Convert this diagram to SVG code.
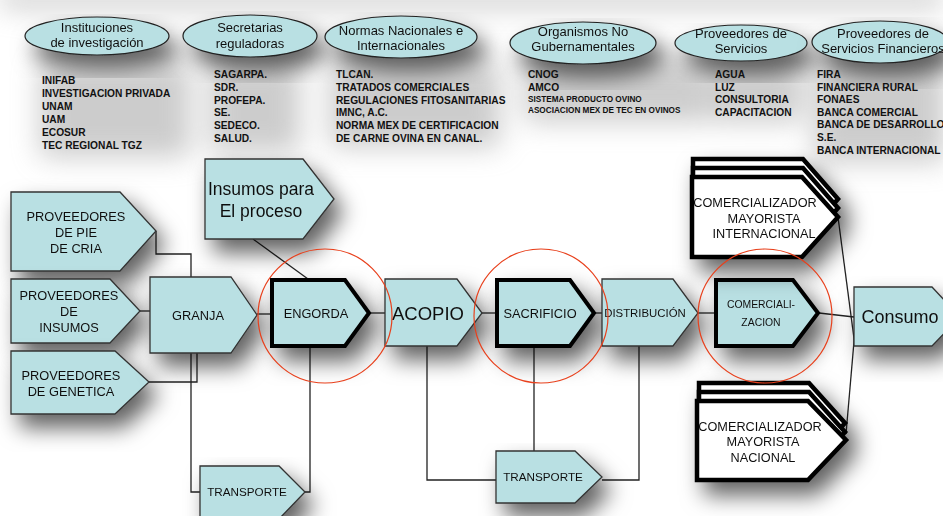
<svg xmlns="http://www.w3.org/2000/svg" width="943" height="516" viewBox="0 0 943 516">
<defs>
<filter id="sh" x="-40%" y="-40%" width="190%" height="200%">
<feGaussianBlur in="SourceAlpha" stdDeviation="11"/>
<feOffset dx="9" dy="13" result="b"/>
<feFlood flood-color="#000" flood-opacity="0.62"/>
<feComposite in2="b" operator="in" result="s"/>
<feMerge><feMergeNode in="s"/><feMergeNode in="SourceGraphic"/></feMerge>
</filter>
<filter id="fog" x="-50%" y="-50%" width="200%" height="200%">
<feGaussianBlur stdDeviation="14"/>
</filter>
</defs>
<style>
.n{fill:#b9e0e3;stroke:#333;stroke-width:1.3}
.t{fill:#b9e0e3;stroke:#000;stroke-width:4;stroke-linejoin:miter}
.w{fill:#fff;stroke:#000;stroke-width:4.5}
.e{fill:#b9e0e3;stroke:#222;stroke-width:1.2}
.c{fill:none;stroke:#222;stroke-width:1.3}
.r{fill:none;stroke:#e8401c;stroke-width:1.2}
text{font-family:"Liberation Sans",Arial,sans-serif;fill:#111}
.et{font-size:13px;text-anchor:middle}
.bt{font-size:12.8px;text-anchor:middle}
.l{font-size:10.2px;font-weight:bold}
.ls{font-size:8.2px;font-weight:bold}
</style>
<rect width="943" height="516" fill="#fff"/>
<g id="fog" filter="url(#fog)" fill="#9a9a9a" opacity="0.5">
<rect x="0" y="-12" width="943" height="20"/>
<rect x="40" y="62" width="150" height="95"/>
<rect x="210" y="62" width="90" height="90"/>
<rect x="330" y="62" width="170" height="85"/>
<rect x="525" y="62" width="185" height="60"/>
<rect x="712" y="62" width="90" height="60"/>
<rect x="815" y="62" width="130" height="100"/>
</g>
<g id="connectors">
<polyline class="c" points="156,231 156,254 191,254 191,277"/>
<line class="c" x1="140" y1="311" x2="150" y2="311"/>
<polyline class="c" points="149,382 197,382 197,353"/>
<polyline class="c" points="191,353 191,492 200,492"/>
<polyline class="c" points="310,346 310,492 305,492"/>
<line class="c" x1="253" y1="239" x2="308" y2="279"/>
<line class="c" x1="257" y1="314" x2="272" y2="314"/>
<line class="c" x1="370" y1="313" x2="385" y2="313"/>
<line class="c" x1="482" y1="313" x2="496" y2="313"/>
<line class="c" x1="595" y1="313" x2="602" y2="313"/>
<line class="c" x1="698" y1="313" x2="715" y2="313"/>
<line class="c" x1="819" y1="313" x2="854" y2="317"/>
<polyline class="c" points="427,346 427,480 496,480"/>
<line class="c" x1="534" y1="346" x2="534" y2="451"/>
<polyline class="c" points="639,346 639,480 602,480"/>
<line class="c" x1="838" y1="217" x2="855" y2="346"/>
<line class="c" x1="846" y1="434" x2="855" y2="330"/>
</g>
<g id="instituciones" filter="url(#sh)">
<ellipse class="e" cx="97" cy="36" rx="72" ry="19"/>
<text class="et" x="97" y="32">Instituciones</text>
<text class="et" x="97" y="47">de investigación</text>
</g>
<g id="secretarias" filter="url(#sh)">
<ellipse class="e" cx="250" cy="36" rx="67" ry="21"/>
<text class="et" x="250" y="32">Secretarias</text>
<text class="et" x="250" y="48">reguladoras</text>
</g>
<g id="normas" filter="url(#sh)">
<ellipse class="e" cx="401" cy="37" rx="76" ry="21"/>
<text class="et" x="401" y="35">Normas Nacionales e</text>
<text class="et" x="401" y="50">Internacionales</text>
</g>
<g id="ong" filter="url(#sh)">
<ellipse class="e" cx="583" cy="43" rx="73" ry="21"/>
<text class="et" x="583" y="36">Organismos No</text>
<text class="et" x="583" y="51">Gubernamentales</text>
</g>
<g id="servicios" filter="url(#sh)">
<ellipse class="e" cx="741" cy="43" rx="66" ry="18"/>
<text class="et" x="741" y="38">Proveedores de</text>
<text class="et" x="741" y="53">Servicios</text>
</g>
<g id="financieros" filter="url(#sh)">
<ellipse class="e" cx="880" cy="42" rx="68" ry="21"/>
<text class="et" x="883" y="38">Proveedores de</text>
<text class="et" x="883" y="53">Servicios Financieros</text>
</g>
<g id="lista-instituciones">
<text class="l" x="42" y="84">INIFAB</text>
<text class="l" x="42" y="97">INVESTIGACION PRIVADA</text>
<text class="l" x="42" y="110">UNAM</text>
<text class="l" x="42" y="123">UAM</text>
<text class="l" x="42" y="136">ECOSUR</text>
<text class="l" x="42" y="149">TEC REGIONAL TGZ</text>
</g>
<g id="lista-secretarias">
<text class="l" x="214" y="78">SAGARPA.</text>
<text class="l" x="214" y="91">SDR.</text>
<text class="l" x="214" y="104">PROFEPA.</text>
<text class="l" x="214" y="116">SE.</text>
<text class="l" x="214" y="129">SEDECO.</text>
<text class="l" x="214" y="142">SALUD.</text>
</g>
<g id="lista-normas">
<text class="l" x="336" y="78">TLCAN.</text>
<text class="l" x="336" y="91">TRATADOS COMERCIALES</text>
<text class="l" x="336" y="104">REGULACIONES FITOSANITARIAS</text>
<text class="l" x="336" y="116">IMNC, A.C.</text>
<text class="l" x="336" y="129">NORMA MEX DE CERTIFICACION</text>
<text class="l" x="336" y="142">DE CARNE OVINA EN CANAL.</text>
</g>
<g id="lista-ong">
<text class="l" x="528" y="78">CNOG</text>
<text class="l" x="528" y="91">AMCO</text>
<text class="ls" x="528" y="102">SISTEMA PRODUCTO OVINO</text>
<text class="ls" x="528" y="113">ASOCIACION MEX DE TEC EN OVINOS</text>
</g>
<g id="lista-servicios">
<text class="l" x="715" y="78">AGUA</text>
<text class="l" x="715" y="91">LUZ</text>
<text class="l" x="715" y="103">CONSULTORIA</text>
<text class="l" x="715" y="116">CAPACITACION</text>
</g>
<g id="lista-financieros">
<text class="l" x="817" y="78">FIRA</text>
<text class="l" x="817" y="91">FINANCIERA RURAL</text>
<text class="l" x="817" y="103">FONAES</text>
<text class="l" x="817" y="116">BANCA COMERCIAL</text>
<text class="l" x="817" y="128">BANCA DE DESARROLLO</text>
<text class="l" x="817" y="141">S.E.</text>
<text class="l" x="817" y="154">BANCA INTERNACIONAL</text>
</g>
<g id="pie-de-cria" filter="url(#sh)">
<path class="n" d="M11,192H120L156,231L120,271H11Z"/>
<text class="bt" x="76" y="221">PROVEEDORES</text>
<text class="bt" x="76" y="237">DE PIE</text>
<text class="bt" x="76" y="253">DE CRIA</text>
</g>
<g id="insumos-prov" filter="url(#sh)">
<path class="n" d="M11,279H110L140,311L110,343H11Z"/>
<text class="bt" x="69" y="300">PROVEEDORES</text>
<text class="bt" x="69" y="316">DE</text>
<text class="bt" x="69" y="332">INSUMOS</text>
</g>
<g id="genetica" filter="url(#sh)">
<path class="n" d="M11,351H115L149,382L115,414H11Z"/>
<text class="bt" x="71" y="380">PROVEEDORES</text>
<text class="bt" x="71" y="396">DE GENETICA</text>
</g>
<g id="granja" filter="url(#sh)">
<path class="n" d="M150,277H231L257,315L231,353H150Z"/>
<text class="bt" x="198" y="320">GRANJA</text>
</g>
<g id="insumos-proceso" filter="url(#sh)">
<path class="n" d="M205,159H303L334,199L303,239H205Z"/>
<text x="261" y="195" style="font-size:17.5px;text-anchor:middle">Insumos para</text>
<text x="261" y="217" style="font-size:17.5px;text-anchor:middle">El proceso</text>
</g>
<g id="engorda" filter="url(#sh)">
<path class="t" d="M272,280H345L369,313L345,346H272Z"/>
<text class="bt" x="316" y="318">ENGORDA</text>
</g>
<g id="acopio" filter="url(#sh)">
<path class="n" d="M385,279H457L482,313L457,346H385Z"/>
<text x="428" y="320" style="font-size:18.5px;text-anchor:middle">ACOPIO</text>
</g>
<g id="sacrificio" filter="url(#sh)">
<path class="t" d="M497,280H570L594,313L570,346H497Z"/>
<text class="bt" x="540" y="318">SACRIFICIO</text>
</g>
<g id="distribucion" filter="url(#sh)">
<path class="n" d="M602,279H673L698,313L673,346H602Z"/>
<text x="645" y="317" style="font-size:11.4px;text-anchor:middle">DISTRIBUCIÓN</text>
</g>
<g id="comercializacion" filter="url(#sh)">
<path class="t" d="M716,280H793L818,313L793,346H716Z"/>
<text x="761" y="308" style="font-size:10.4px;text-anchor:middle">COMERCIALI-</text>
<text x="761" y="326" style="font-size:10.4px;text-anchor:middle">ZACION</text>
</g>
<g id="consumo" filter="url(#sh)">
<path class="n" d="M854,287H932L960,317L932,346H854Z"/>
<text x="900" y="323" style="font-size:18px;text-anchor:middle">Consumo</text>
</g>
<g id="mayorista-internacional" filter="url(#sh)">
<path class="w" d="M693,159H803L838,199L803,239H693Z"/>
<path class="w" d="M693,168H803L838,208L803,248H693Z"/>
<path class="w" d="M692,177H802L838,217L802,257H692Z"/>
<text x="755" y="207" style="font-size:12.7px;text-anchor:middle">COMERCIALIZADOR</text>
<text x="764" y="223" style="font-size:12.7px;text-anchor:middle">MAYORISTA</text>
<text x="764" y="238" style="font-size:12.7px;text-anchor:middle">INTERNACIONAL</text>
</g>
<g id="mayorista-nacional" filter="url(#sh)">
<path class="w" d="M699,383H809L845,423L809,463H699Z"/>
<path class="w" d="M699,392H809L845,432L809,472H699Z"/>
<path class="w" d="M697,401H808L846,440L808,480H697Z"/>
<text x="760" y="431" style="font-size:12.7px;text-anchor:middle">COMERCIALIZADOR</text>
<text x="763" y="446" style="font-size:12.7px;text-anchor:middle">MAYORISTA</text>
<text x="763" y="462" style="font-size:12.7px;text-anchor:middle">NACIONAL</text>
</g>
<g id="transporte-1" filter="url(#sh)">
<path class="n" d="M200,466H279L305,492L279,519H200Z"/>
<text x="247" y="496" style="font-size:11.7px;text-anchor:middle">TRANSPORTE</text>
</g>
<g id="transporte-2" filter="url(#sh)">
<path class="n" d="M496,451H575L602,477L575,503H496Z"/>
<text x="543" y="481" style="font-size:11.7px;text-anchor:middle">TRANSPORTE</text>
</g>
<g id="circulos">
<circle class="r" cx="325" cy="316" r="67"/>
<circle class="r" cx="541" cy="316" r="67"/>
<circle class="r" cx="765" cy="316" r="67"/>
</g>
</svg>
